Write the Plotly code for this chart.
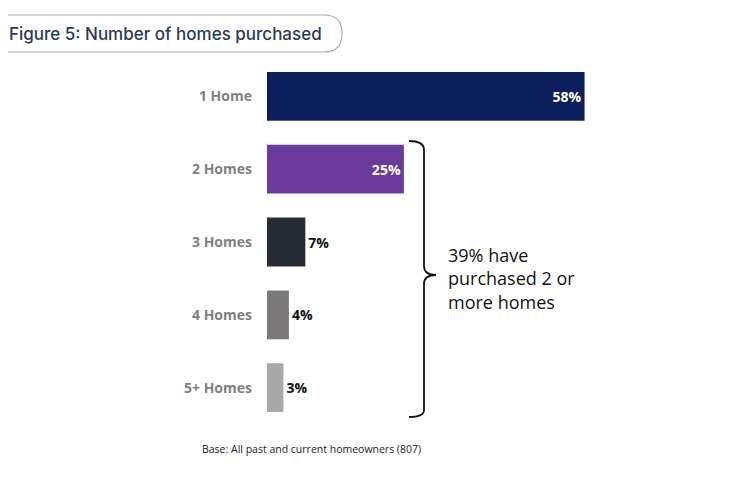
# Figure 5: number of homes purchased, horizontal bars

import plotly.graph_objects as go

categories = ["1 Home", "2 Homes", "3 Homes", "4 Homes", "5+ Homes"]
values = [58, 25, 7, 4, 3]
bar_colors = ["#0b1f5c", "#6a3a9c", "#262a34", "#7a7878", "#a9a9a9"]
inside = [True, True, False, False, False]

# page shows the figure with an 8px body margin
OFF = 8
W, H = 750, 500
L, T = 267 - OFF, 60 - OFF
PW, PH = 438, 364
R, B = W - L - PW, H - T - PH


def px(x):
    return (x - OFF - L) / PW


def py(y):
    return 1 - (y - OFF - T) / PH


def svg(cmds):
    # cmds: list of (letter, [(x, y), ...]) in screen pixel coords
    out = []
    for c, pts in cmds:
        out.append(c + " " + " ".join(f"{px(x):.5f},{py(y):.5f}" for x, y in pts))
    return " ".join(out)


fig = go.Figure()
fig.add_trace(
        go.Bar(
            y=categories,
            x=values,
            orientation="h",
            width=0.67,
            marker=dict(color=bar_colors, line_width=0),
            text=[f"<b>{v}%</b>" for v in values],
            textposition=["inside" if i else "outside" for i in inside],
            insidetextanchor="end",
            insidetextfont=dict(color="white", size=14, family="Open Sans"),
            outsidetextfont=dict(color="#111111", size=14, family="Open Sans"),
            cliponaxis=False,
            hoverinfo="skip"))

# curly bracket round bars 2..5
bracket = svg([
    ("M", [(409, 141)]),
    ("Q", [(424, 141), (424, 150)]),
    ("L", [(424, 266)]),
    ("Q", [(424, 275), (436, 275)]),
    ("Q", [(424, 275), (424, 284)]),
    ("L", [(424, 410)]),
    ("Q", [(424, 417), (409, 417)]),
])
fig.add_shape(type="path", path=bracket, xref="paper", yref="paper",
              line=dict(color="#111111", width=1.8))

# title box with rounded right end
r = 18
box = svg([
    ("M", [(-5, 15)]),
    ("L", [(342 - r, 15)]),
    ("Q", [(342, 15), (342, 15 + r)]),
    ("L", [(342, 52 - r)]),
    ("Q", [(342, 52), (342 - r, 52)]),
    ("L", [(-5, 52)]),
])
fig.add_shape(type="path", path=box, xref="paper", yref="paper",
              line=dict(color="#a8acb4", width=1.2))

fig.add_annotation(
        x=px(7), y=py(34), xref="paper", yref="paper",
        text="Figure 5: Number of homes purchased",
        showarrow=False, xanchor="left", yanchor="middle",
        font=dict(family="Inter", size=17, color="#2b3a55", weight=500))

fig.add_annotation(
        x=px(446), y=py(278), xref="paper", yref="paper",
        text="39% have<br>purchased 2 or<br>more homes",
        showarrow=False, xanchor="left", yanchor="middle", align="left",
        font=dict(family="Open Sans", size=18, color="#111111"))

fig.add_annotation(
        x=px(200), y=py(449), xref="paper", yref="paper",
        text="Base: All past and current homeowners (807)",
        showarrow=False, xanchor="left", yanchor="middle",
        font=dict(family="Open Sans", size=10.5, color="#222222"))

fig.update_layout(
        width=W, height=H,
        margin=dict(l=L, r=R, t=T, b=B, autoexpand=False),
        plot_bgcolor="white", paper_bgcolor="white",
        showlegend=False,
        xaxis=dict(range=[0, 80], visible=False, fixedrange=True),
        yaxis=dict(autorange="reversed", showgrid=False, zeroline=False,
                   ticks="", ticklabelstandoff=14,
                   tickfont=dict(family="Open Sans", size=14, color="#7f7f7f",
                                 weight="bold")))

fig.write_html("out.html")
